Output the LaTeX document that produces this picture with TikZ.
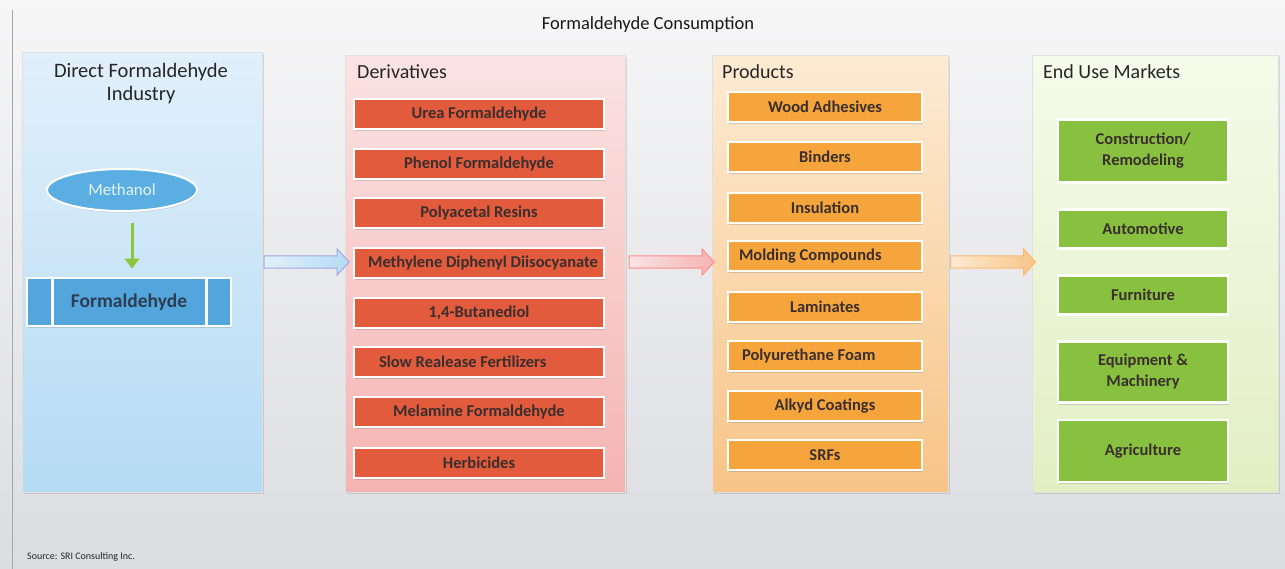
\documentclass[tikz,border=0pt]{standalone}
\usepackage{fontspec}
\setmainfont{Carlito}
\usetikzlibrary{shapes.geometric,shapes.arrows,shadows,arrows.meta,calc}
\definecolor{txt}{HTML}{3A2E2E}
\definecolor{bgtop}{HTML}{F6F6F7}
\definecolor{bgbot}{HTML}{DCDDE1}
\definecolor{blueA}{HTML}{E1F0FB}
\definecolor{blueB}{HTML}{B4DBF4}
\definecolor{pinkA}{HTML}{FBE3E3}
\definecolor{pinkB}{HTML}{F4B4B2}
\definecolor{oraA}{HTML}{FDEBD3}
\definecolor{oraB}{HTML}{F7C487}
\definecolor{grnA}{HTML}{F6FAEA}
\definecolor{grnB}{HTML}{E2EFC3}
\definecolor{redbx}{HTML}{E15B3C}
\definecolor{orabx}{HTML}{F5A53B}
\definecolor{grnbx}{HTML}{88C13F}
\definecolor{bluebx}{HTML}{52A6DC}
\definecolor{meth}{HTML}{5AAEE1}
\definecolor{garrow}{HTML}{8CC63F}
\definecolor{formtxt}{HTML}{2E3D52}
\tikzset{
  panel/.style={draw=black!12, line width=0.6pt, minimum width=#1, anchor=north west,
    drop shadow={opacity=0.25, shadow xshift=1.5pt, shadow yshift=-1.5pt}},
  ptitle/.style={font=\fontsize{20}{23}\selectfont, text=black!85, anchor=west, inner sep=0pt},
  bx/.style={draw=white, line width=2.5pt, font=\fontsize{16.5}{21}\selectfont\bfseries, text=txt,
    inner sep=0pt, drop shadow={opacity=0.3, shadow xshift=1pt, shadow yshift=-2pt}},
  redbox/.style={bx, fill=redbx, minimum width=250pt, minimum height=30pt},
  orabox/.style={bx, fill=orabx, minimum width=194pt, minimum height=30pt},
  grnbox/.style={bx, fill=grnbx, minimum width=170pt, align=center},
  fat/.style n args={3}{single arrow, draw=#1, left color=#2, right color=#3, line width=1pt,
    minimum height=85pt, minimum width=26pt, single arrow head extend=6pt, inner sep=5pt,
    single arrow tip angle=95}
}
\begin{document}
\begin{tikzpicture}[x=1pt,y=-1pt]
\useasboundingbox (0,0) rectangle (1285,569);
\fill[top color=bgtop, bottom color=bgbot] (0,0) rectangle (1285,569);
\draw[black!35, line width=1pt] (12,10) -- (12,569);

\node[font=\fontsize{18.5}{21}\selectfont, text=black!90] (title) at (648,25) {Formaldehyde Consumption};

% panels
\node[panel=240pt, minimum height=440pt, top color=blueA, bottom color=blueB] (p1) at (22,52) {};
\node[panel=280pt, minimum height=437pt, top color=pinkA, bottom color=pinkB] (p2) at (345,55) {};
\node[panel=236pt, minimum height=437pt, top color=oraA, bottom color=oraB] (p3) at (712,55) {};
\node[panel=246pt, minimum height=437pt, top color=grnA, bottom color=grnB] (p4) at (1032,55) {};

\node[font=\fontsize{20.5}{23}\selectfont, text=black!85, align=center] (t1) at (141,84) {Direct Formaldehyde\\Industry};
\node[ptitle] (t2) at (357,72) {Derivatives};
\node[ptitle] (t3) at (722,72) {Products};
\node[ptitle] (t4) at (1043,72) {End Use Markets};

% panel 1
\node[ellipse, fill=meth, draw=white, line width=2pt, minimum width=150pt, minimum height=42pt,
  text=white!85!meth, font=\fontsize{17}{19}\selectfont,
  drop shadow={opacity=0.25, shadow xshift=1pt, shadow yshift=-1.5pt}] (meth) at (122,190) {Methanol};
\node[bx, fill=bluebx, minimum width=204pt, minimum height=48pt, font=\fontsize{19.5}{22}\selectfont\bfseries, text=formtxt] (form) at (129,302) {Formaldehyde};
\draw[white, line width=3pt] (52,279) -- (52,325) (206,279) -- (206,325);
\draw[garrow, line width=3pt, -{Triangle[length=10pt,width=14pt]}]
  ([xshift=10pt,yshift=-11pt]meth.south) -- ([xshift=3pt,yshift=8pt]form.north);

% derivatives
\node[redbox] (d1) at (479,114) {Urea Formaldehyde};
\node[redbox] (d2) at (479,164) {Phenol Formaldehyde};
\node[redbox] (d3) at (479,213) {Polyacetal Resins};
\node[redbox] (d4) at (479,263) {\hspace*{8pt}Methylene Diphenyl Diisocyanate};
\node[redbox] (d5) at (479,313) {1,4-Butanediol};
\node[redbox] (d6) at (479,362) {\makebox[200pt][l]{Slow Realease Fertilizers}};
\node[redbox] (d7) at (479,412) {Melamine Formaldehyde};
\node[redbox] (d8) at (479,463) {Herbicides};

% products
\node[orabox] (r1) at (825,107) {Wood Adhesives};
\node[orabox] (r2) at (825,157) {Binders};
\node[orabox] (r3) at (825,208) {Insulation};
\node[orabox] (r4) at (825,256) {\makebox[172pt][l]{Molding Compounds}};
\node[orabox] (r5) at (825,307) {Laminates};
\node[orabox] (r6) at (825,356) {\makebox[166pt][l]{Polyurethane Foam}};
\node[orabox] (r7) at (825,406) {Alkyd Coatings};
\node[orabox] (r8) at (825,455) {SRFs};

% end use markets
\node[grnbox, minimum height=63pt] (m1) at (1143,151) {Construction/\\Remodeling};
\node[grnbox, minimum height=39pt] (m2) at (1143,229) {Automotive};
\node[grnbox, minimum height=39pt] (m3) at (1143,295) {Furniture};
\node[grnbox, minimum height=61pt] (m4) at (1143,372) {Equipment \&\\Machinery};
\node[grnbox, minimum height=62pt] (m5) at (1143,451) {Agriculture};

% connectors between panels
\coordinate (a1) at (p1.east |- 0,262);
\coordinate (b1) at (p2.west |- 0,262);
\coordinate (a2) at (p2.east |- 0,262);
\coordinate (b2) at (p3.west |- 0,262);
\coordinate (a3) at (p3.east |- 0,262);
\coordinate (b3) at (p4.west |- 0,262);
\node[fat={black!30!blue!35}{blueA}{blueB}] (c1) at ($(a1)!0.5!(b1)$) {};
\node[fat={red!45}{pinkA}{pinkB}] (c2) at ($(a2)!0.5!(b2)$) {};
\node[fat={orange!55}{oraA}{oraB}] (c3) at ($(a3)!0.5!(b3)$) {};

\node[font=\fontsize{10}{11}\selectfont, text=black!85, anchor=west, inner sep=0pt] (src) at (27,557) {Source: SRI Consulting Inc.};
\end{tikzpicture}
\end{document}
